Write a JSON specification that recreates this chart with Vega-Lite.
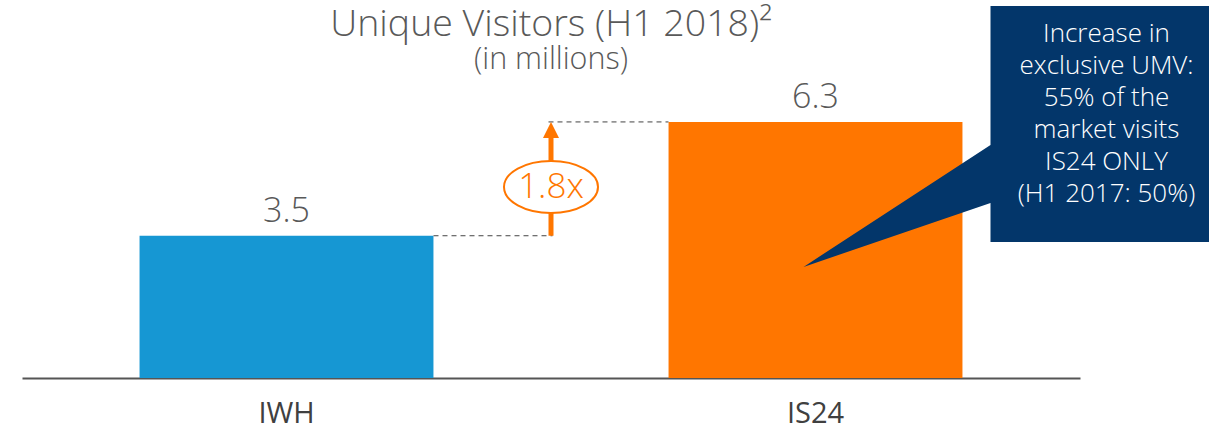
{
  "$schema": "https://vega.github.io/schema/vega-lite/v6.json",
  "width": 1058,
  "height": 378,
  "autosize": {"type": "none"},
  "padding": {"left": 22, "right": 129, "top": 0, "bottom": 54},
  "background": "white",
  "config": {
    "view": {"stroke": null},
    "font": "Open Sans",
    "text": {"font": "Open Sans"}
  },
  "title": {
    "text": "Unique Visitors (H1 2018)²",
    "subtitle": "(in millions)",
    "font": "Open Sans",
    "subtitleFont": "Open Sans",
    "fontSize": 37.5,
    "subtitleFontSize": 30.5,
    "fontWeight": 300,
    "subtitleFontWeight": 300,
    "color": "#595959",
    "subtitleColor": "#595959",
    "anchor": "middle",
    "offset": -75,
    "subtitlePadding": 1
  },
  "data": {"values": [
    {"cat": "IWH", "value": 3.5},
    {"cat": "IS24", "value": 6.3}
  ]},
  "layer": [
    {
      "mark": {"type": "bar"},
      "encoding": {
        "x": {
          "field": "cat", "type": "nominal", "sort": ["IWH", "IS24"],
          "scale": {"domain": ["IWH", "IS24"], "paddingInner": 0.4444, "paddingOuter": 0.2222},
          "axis": {
            "title": null, "ticks": false, "labelAngle": 0, "labelFontSize": 29,
            "labelColor": "#404040", "labelFont": "Open Sans", "labelPadding": 21,
            "domainColor": "#555555", "domainWidth": 2, "grid": false
          }
        },
        "y": {
          "field": "value", "type": "quantitative",
          "scale": {"domain": [0, 9.3], "nice": false, "zero": true},
          "axis": null
        },
        "color": {
          "field": "cat", "type": "nominal",
          "scale": {"domain": ["IWH", "IS24"], "range": ["#1697d3", "#ff7600"]},
          "legend": null
        }
      }
    },
    {
      "mark": {"type": "text", "baseline": "alphabetic", "dy": -14, "fontSize": 34, "fontWeight": 300, "color": "#595959"},
      "encoding": {
        "x": {"field": "cat", "type": "nominal"},
        "y": {"field": "value", "type": "quantitative"},
        "text": {"field": "value", "type": "quantitative", "format": ".1f"}
      }
    },
    {
      "data": {"values": [{}]},
      "mark": {"type": "rule", "strokeDash": [5, 4], "strokeWidth": 1, "color": "#444444", "xOffset": 147, "x2Offset": -263},
      "encoding": {
        "x": {"datum": "IWH"},
        "x2": {"datum": "IS24"},
        "y": {"datum": 3.5}
      }
    },
    {
      "data": {"values": [{}]},
      "mark": {"type": "rule", "strokeDash": [5, 4], "strokeWidth": 1, "color": "#444444", "xOffset": 262, "x2Offset": -147},
      "encoding": {
        "x": {"datum": "IWH"},
        "x2": {"datum": "IS24"},
        "y": {"datum": 6.3}
      }
    },
    {
      "data": {"values": [{}]},
      "mark": {"type": "rule", "strokeWidth": 5, "color": "#ff7600", "xOffset": 264.5, "y2Offset": 14},
      "encoding": {
        "x": {"datum": "IWH"},
        "y": {"datum": 3.5},
        "y2": {"datum": 6.3}
      }
    },
    {
      "data": {"values": [{}]},
      "mark": {"type": "point", "shape": "M0,-1L1,1L-1,1Z", "size": 256, "filled": true, "opacity": 1, "strokeWidth": 0, "color": "#ff7600", "xOffset": 264.5, "yOffset": 8},
      "encoding": {
        "x": {"datum": "IWH"},
        "y": {"datum": 6.3}
      }
    },
    {
      "data": {"values": [{}]},
      "mark": {"type": "point", "shape": "M-1,0A1,0.553 0 1 0 1,0A1,0.553 0 1 0 -1,0Z", "size": 8836, "filled": true, "fill": "white", "stroke": "#ff7600", "strokeWidth": 2, "opacity": 1, "xOffset": 264.5},
      "encoding": {
        "x": {"datum": "IWH"},
        "y": {"datum": 4.7}
      }
    },
    {
      "data": {"values": [{"label": "1.8x"}]},
      "mark": {"type": "text", "baseline": "middle", "align": "center", "fontSize": 35, "fontWeight": 300, "color": "#ff7600", "xOffset": 264.5},
      "encoding": {
        "x": {"datum": "IWH"},
        "y": {"datum": 4.7},
        "text": {"field": "label"}
      }
    },
    {
      "data": {"values": [{}]},
      "mark": {"type": "point", "shape": "M175,-116L396,-116L396,120L175,120L175,81L-12,145L175,23Z", "size": 4, "filled": true, "opacity": 1, "strokeWidth": 0, "color": "#03366a"},
      "encoding": {
        "x": {"datum": "IS24"},
        "y": {"datum": 6.3}
      }
    },
    {
      "data": {"values": [{"label": ["Increase in", "exclusive UMV:", "55% of the", "market visits", "IS24 ONLY", "(H1 2017: 50%)"]}]},
      "mark": {"type": "text", "align": "center", "baseline": "alphabetic", "fontSize": 26, "fontWeight": 300, "lineHeight": 32, "color": "white", "xOffset": 291, "yOffset": -80},
      "encoding": {
        "x": {"datum": "IS24"},
        "y": {"datum": 6.3},
        "text": {"field": "label"}
      }
    }
  ]
}
